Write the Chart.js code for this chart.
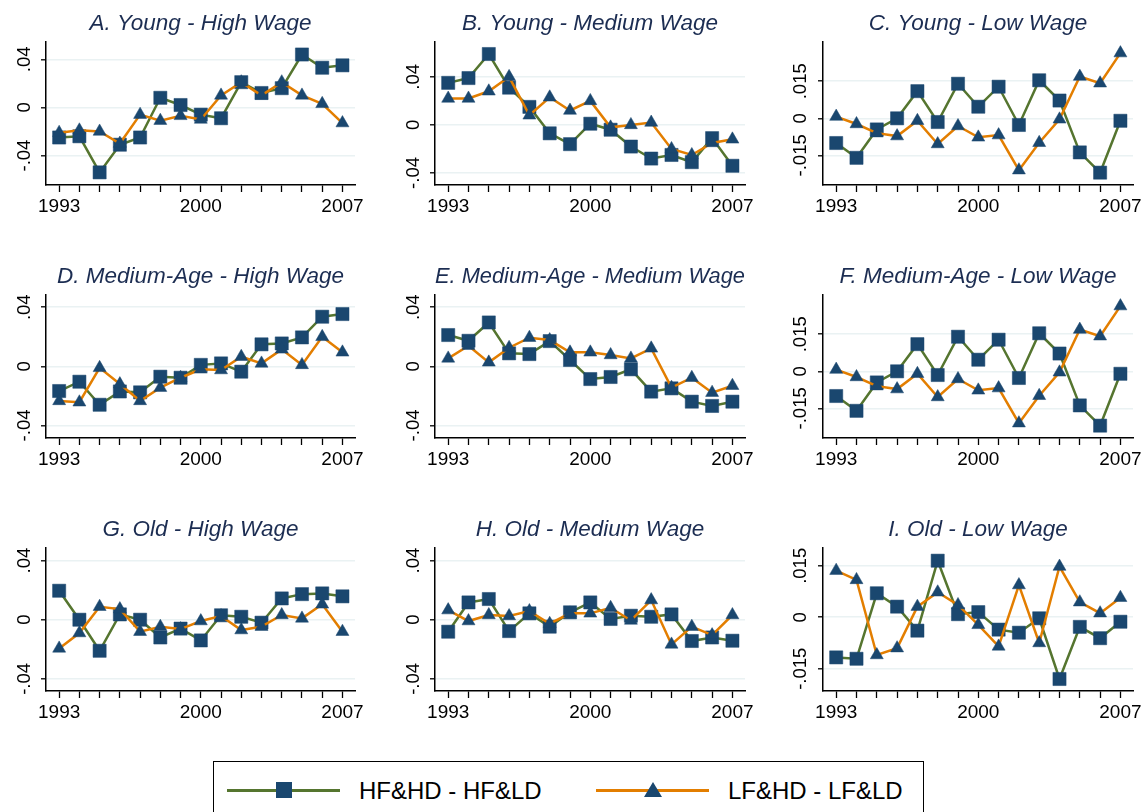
<!DOCTYPE html>
<html>
<head>
<meta charset="utf-8">
<script src="https://cdn.jsdelivr.net/npm/chart.js@4.4.1/dist/chart.umd.min.js"></script>
<style>
  body { margin: 0; background: #fff; width: 1143px; height: 812px; overflow: hidden; position: relative;
         font-family: "Liberation Sans", Arial, sans-serif; }
  canvas { position: absolute; }
  .legend-box { position: absolute; left: 213px; top: 761px; width: 709px; height: 80px; border: 1.5px solid #000; }
  .leg-line { position: absolute; top: 788.5px; height: 3.5px; width: 113px; }
  .leg-sq { position: absolute; top: 782px; width: 16px; height: 16px; background: #1a476f; }
  .leg-tri { position: absolute; top: 782px; width: 0; height: 0; border-left: 9.5px solid transparent;
             border-right: 9.5px solid transparent; border-bottom: 15px solid #1a476f; }
  .leg-text { position: absolute; top: 779px; font-size: 24px; line-height: 24px; color: #000; white-space: nowrap; }
</style>
</head>
<body>
<script>
  // años y etiquetas
  const years = [1993, 1994, 1995, 1996, 1997, 1998, 1999, 2000, 2001, 2002, 2003, 2004, 2005, 2006, 2007];
  const yearLabels = [1993, 2000, 2007];
  const ticks04 = [-0.04, 0, 0.04];
  const ticks015 = [-0.015, 0, 0.015];
  const seriesNames = ["HF&HD - HF&LD", "LF&HD - LF&LD"];
  const titles = [
    "A. Young - High Wage", "B. Young - Medium Wage", "C. Young - Low Wage",
    "D. Medium-Age - High Wage", "E. Medium-Age - Medium Wage", "F. Medium-Age - Low Wage",
    "G. Old - High Wage", "H. Old - Medium Wage", "I. Old - Low Wage"
  ];

  // HF&HD - HF&LD (cuadrados) y LF&HD - LF&LD (triángulos)
  const hfYoungHigh = [-0.025, -0.024, -0.054, -0.031, -0.025, 0.008, 0.002, -0.006, -0.009, 0.021, 0.012, 0.016, 0.044, 0.033, 0.035];
  const lfYoungHigh = [-0.021, -0.019, -0.020, -0.030, -0.006, -0.011, -0.007, -0.010, 0.010, 0.021, 0.010, 0.021, 0.010, 0.003, -0.013];
  const hfYoungMed = [0.035, 0.039, 0.059, 0.031, 0.015, -0.007, -0.016, 0.001, -0.004, -0.018, -0.028, -0.025, -0.031, -0.011, -0.034];
  const lfYoungMed = [0.022, 0.022, 0.028, 0.040, 0.008, 0.023, 0.012, 0.020, -0.002, 0.000, 0.002, -0.020, -0.025, -0.015, -0.012];
  const hfYoungLow = [-0.0100, -0.0160, -0.0045, 0.0000, 0.0110, -0.0015, 0.0140, 0.0047, 0.0128, -0.0027, 0.0154, 0.0072, -0.0138, -0.0220, -0.0010];
  const lfYoungLow = [0.0007, -0.0023, -0.0060, -0.0072, -0.0010, -0.0104, -0.0031, -0.0077, -0.0068, -0.0210, -0.0099, -0.0004, 0.0169, 0.0142, 0.0264];
  const hfMidHigh = [-0.0167, -0.0104, -0.0260, -0.0170, -0.0176, -0.0070, -0.0077, 0.0010, 0.0020, -0.0036, 0.0149, 0.0155, 0.0196, 0.0336, 0.0354];
  const lfMidHigh = [-0.0234, -0.0243, -0.0010, -0.0120, -0.0234, -0.0144, -0.0077, -0.0020, -0.0025, 0.0065, 0.0020, 0.0115, 0.0010, 0.0200, 0.0095];
  const hfMidMed = [0.0212, 0.0173, 0.0297, 0.0088, 0.0083, 0.0171, 0.0043, -0.0086, -0.0072, -0.0020, -0.0171, -0.0149, -0.0239, -0.0268, -0.0239];
  const lfMidMed = [0.0054, 0.0140, 0.0027, 0.0126, 0.0194, 0.0178, 0.0095, 0.0095, 0.0077, 0.0054, 0.0122, -0.0144, -0.0077, -0.0178, -0.0131];
  const hfMidLow = [-0.0100, -0.0160, -0.0045, 0.0000, 0.0110, -0.0015, 0.0140, 0.0047, 0.0128, -0.0027, 0.0154, 0.0072, -0.0138, -0.0220, -0.0010];
  const lfMidLow = [0.0007, -0.0023, -0.0060, -0.0072, -0.0010, -0.0104, -0.0031, -0.0077, -0.0068, -0.0210, -0.0099, -0.0004, 0.0169, 0.0142, 0.0264];
  const hfOldHigh = [0.0196, 0.0000, -0.0210, 0.0036, 0.0000, -0.0120, -0.0060, -0.0140, 0.0030, 0.0020, -0.0020, 0.0144, 0.0173, 0.0178, 0.0158];
  const lfOldHigh = [-0.0194, -0.0090, 0.0088, 0.0072, -0.0081, -0.0047, -0.0063, -0.0009, 0.0025, -0.0070, -0.0047, 0.0032, 0.0009, 0.0104, -0.0081];
  const hfOldMed = [-0.0081, 0.0117, 0.0140, -0.0077, 0.0043, -0.0047, 0.0050, 0.0117, 0.0005, 0.0027, 0.0020, 0.0036, -0.0144, -0.0120, -0.0142];
  const lfOldMed = [0.0065, -0.0009, 0.0032, 0.0025, 0.0059, -0.0027, 0.0043, 0.0043, 0.0081, -0.0005, 0.0133, -0.0167, -0.0047, -0.0104, 0.0032];
  const hfOldLow = [-0.0117, -0.0121, 0.0070, 0.0031, -0.0039, 0.0165, 0.0009, 0.0015, -0.0036, -0.0045, -0.0003, -0.0180, -0.0028, -0.0061, -0.0013];
  const lfOldLow = [0.0136, 0.0109, -0.0110, -0.0090, 0.0031, 0.0073, 0.0036, -0.0022, -0.0085, 0.0094, -0.0075, 0.0148, 0.0044, 0.0012, 0.0057];

  const panels = [
    { hf: hfYoungHigh, lf: lfYoungHigh, ticks: ticks04, min: -0.0645, max: 0.0544 },
    { hf: hfYoungMed, lf: lfYoungMed, ticks: ticks04, min: -0.050, max: 0.069 },
    { hf: hfYoungLow, lf: lfYoungLow, ticks: ticks015, min: -0.027, max: 0.0309 },
    { hf: hfMidHigh, lf: lfMidHigh, ticks: ticks04, min: -0.0485, max: 0.0483 },
    { hf: hfMidMed, lf: lfMidMed, ticks: ticks04, min: -0.0485, max: 0.0483 },
    { hf: hfMidLow, lf: lfMidLow, ticks: ticks015, min: -0.027, max: 0.0309 },
    { hf: hfOldHigh, lf: lfOldHigh, ticks: ticks04, min: -0.0482, max: 0.0485 },
    { hf: hfOldMed, lf: lfOldMed, ticks: ticks04, min: -0.0482, max: 0.0485 },
    { hf: hfOldLow, lf: lfOldLow, ticks: ticks015, min: -0.0215, max: 0.0202 }
  ];

  const FONT = '"Liberation Sans", Arial, sans-serif';
  const GREEN = "#55752f", ORANGE = "#e37e00", NAVY = "#1a476f";
  const colAxisX = [46, 435, 823], colRight = [355, 745, 1133], plotTop = [42, 295, 548];
  const PLOT_H = 143, TITLE_H = 42, Y_AXIS_W = 40, X_AXIS_H = 40, PAD_R = 12;

  const fmt = v => v === 0 ? "0" : String(+v.toFixed(3)).replace(/^(-?)0\./, "$1.");

  panels.forEach((p, k) => {
    const row = Math.floor(k / 3), col = k % 3;
    const cv = document.createElement("canvas");
    cv.width = colRight[col] - colAxisX[col] + Y_AXIS_W + PAD_R;
    cv.height = TITLE_H + PLOT_H + X_AXIS_H;
    cv.style.left = (colAxisX[col] - Y_AXIS_W) + "px";
    cv.style.top = (plotTop[row] - TITLE_H) + "px";
    document.body.appendChild(cv);

    const pts = arr => years.map((yr, i) => ({ x: yr, y: arr[i] }));
    const line = (label, arr, color, style, r, order) => ({
      label, data: pts(arr), borderColor: color, borderWidth: 2.5, tension: 0,
      pointStyle: style, pointRadius: r, pointBackgroundColor: NAVY,
      pointBorderColor: NAVY, pointBorderWidth: 0.5, order
    });

    new Chart(cv, {
      type: "line",
      data: {
        datasets: [
          line(seriesNames[0], p.hf, GREEN, "rect", 9.3, 1),
          line(seriesNames[1], p.lf, ORANGE, "triangle", 7.5, 0)
        ]
      },
      options: {
        responsive: false,
        animation: false,
        devicePixelRatio: 1,
        layout: { padding: { left: 0, top: 0, bottom: 0, right: PAD_R } },
        plugins: {
          legend: { display: false },
          tooltip: { enabled: false },
          title: {
            display: true, text: titles[k], fullSize: false, color: "#1c2d52",
            font: { family: FONT, size: 22.5, style: "italic", weight: "normal", lineHeight: "26px" },
            padding: { top: 11, bottom: 5 }
          }
        },
        scales: {
          x: {
            type: "linear", min: 1992.35, max: 2007.62,
            afterBuildTicks: s => { s.ticks = years.map(v => ({ value: v })); },
            afterFit: s => { s.height = X_AXIS_H; s.paddingLeft = 0; s.paddingRight = 0; },
            ticks: {
              autoSkip: false, maxRotation: 0, padding: 3, color: "#000",
              font: { family: FONT, size: 19 },
              callback: v => yearLabels.includes(v) ? String(v) : ""
            },
            grid: { drawOnChartArea: false, tickLength: 7, tickColor: "#000", tickWidth: 1.3 },
            border: { color: "#000", width: 1.5 }
          },
          y: {
            min: p.min, max: p.max,
            afterBuildTicks: s => { s.ticks = p.ticks.map(v => ({ value: v })); },
            afterFit: s => { s.width = Y_AXIS_W; s.paddingTop = 0; s.paddingBottom = 0; },
            ticks: {
              minRotation: 90, maxRotation: 90, crossAlign: "center", color: "#000",
              padding: p.ticks === ticks015 ? -4 : 0,
              font: { family: FONT, size: 18.5 },
              callback: v => fmt(v)
            },
            grid: { color: "#eaf2f3", lineWidth: 1.6, tickLength: 5, tickColor: "#000", tickWidth: 1.3 },
            border: { color: "#000", width: 1.5 }
          }
        }
      }
    });
  });

  // leyenda común
  const legendParts = [
    '<div class="legend-box"></div>',
    '<div class="leg-line" style="left:227px;background:' + GREEN + '"></div>',
    '<div class="leg-sq" style="left:276px"></div>',
    '<div class="leg-text" style="left:359px" id="leg0"></div>',
    '<div class="leg-line" style="left:596px;background:' + ORANGE + '"></div>',
    '<div class="leg-tri" style="left:643.5px"></div>',
    '<div class="leg-text" style="left:728px" id="leg1"></div>'
  ];
  document.body.insertAdjacentHTML("beforeend", legendParts.join(""));
  document.getElementById("leg0").textContent = seriesNames[0];
  document.getElementById("leg1").textContent = seriesNames[1];
</script>
</body>
</html>
